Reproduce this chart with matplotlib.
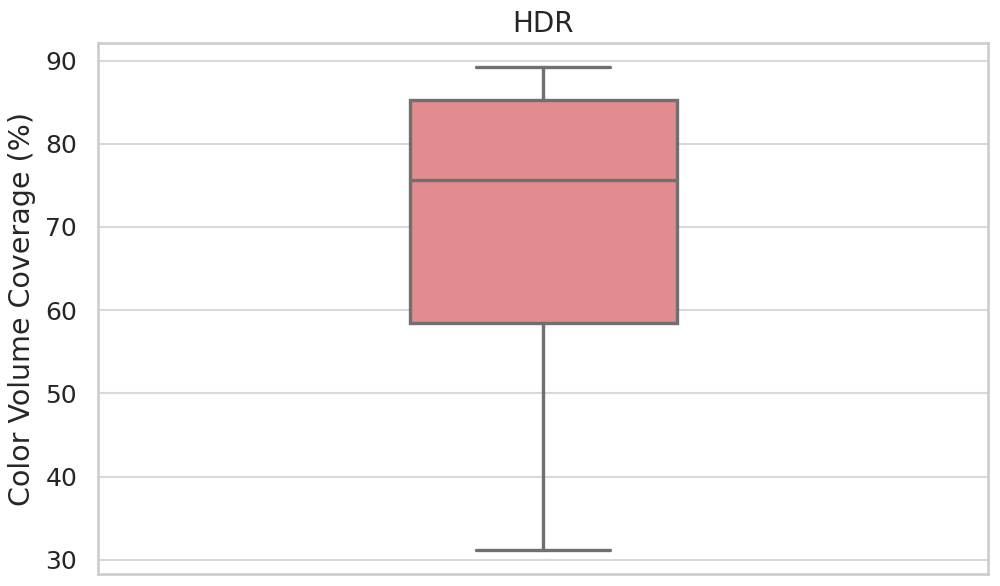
import matplotlib
matplotlib.use("Agg")
import matplotlib.pyplot as plt
import seaborn as sns

# summary stats of the HDR box
labels = ["HDR"]
whis_lo = [31.2]
q1 = [58.5]
median = [75.6]
q3 = [85.2]
whis_hi = [89.2]

sns.set_theme(style="whitegrid")
plt.rcParams.update({
    "ytick.labelsize": 18,
    "ytick.major.pad": 9,
    "axes.labelsize": 20.5,
    "axes.titlesize": 20,
    "axes.linewidth": 1.9,
    "grid.linewidth": 1.5,
    "axes.edgecolor": "#cccccc",
    "grid.color": "#d9d9d9",
})

fig = plt.figure(figsize=(10, 5.86), dpi=100)
ax = fig.add_axes([0.098, 0.0205, 0.89, 0.906])

stats = []
for i in range(len(labels)):
    stats.append({"label": labels[i], "whislo": whis_lo[i], "q1": q1[i],
                  "med": median[i], "q3": q3[i], "whishi": whis_hi[i], "fliers": []})

line_col = "#707070"
ax.bxp(stats, positions=[0], widths=0.3, patch_artist=True, showfliers=False,
       boxprops=dict(facecolor="#e28c8f", edgecolor=line_col, linewidth=2.4),
       medianprops=dict(color=line_col, linewidth=2.4),
       whiskerprops=dict(color=line_col, linewidth=2.4),
       capprops=dict(color=line_col, linewidth=2.4))

ax.set_xlim(-0.5, 0.5)
ax.set_xticks([])
ax.xaxis.grid(False)
ax.set_title("HDR", pad=8)
ax.set_ylabel("Color Volume Coverage (%)", labelpad=7)

fig.savefig("out.png", dpi=100)
